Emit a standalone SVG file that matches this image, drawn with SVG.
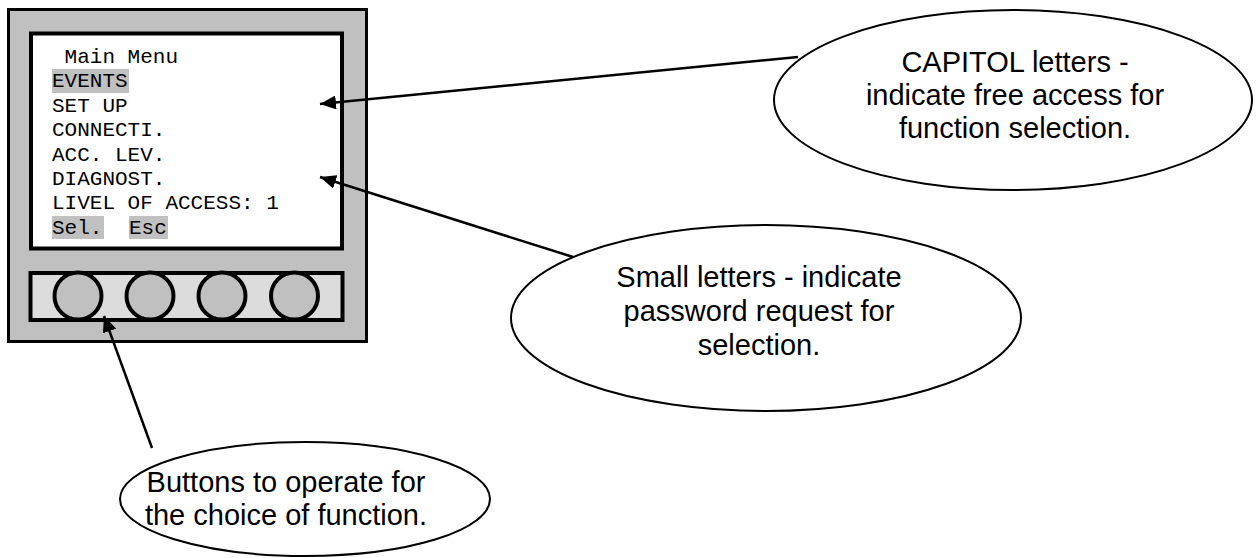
<svg xmlns="http://www.w3.org/2000/svg" width="1256" height="558" viewBox="0 0 1256 558">
<style>
.mono{font-family:"Liberation Mono","Courier New",monospace;font-size:21px;fill:#000}
.lbl{font-family:"Liberation Sans",Arial,sans-serif;font-size:29px;fill:#000;text-anchor:middle}
.bubble{fill:#fff;stroke:#000;stroke-width:2}
.hl{fill:#c0c0c0}
.btn{fill:#c0c0c0;stroke:#000;stroke-width:4}
.conn{stroke:#000;stroke-width:2.5;fill:none;marker-end:url(#ah)}
</style>
<defs>
<marker id="ah" markerUnits="userSpaceOnUse" markerWidth="18" markerHeight="14" refX="16" refY="7" orient="auto">
<path d="M0,0 L16,7 L0,14 z" fill="#000"/>
</marker>
</defs>
<rect width="1256" height="558" fill="#fff"/>
<g id="device">
<rect x="8.5" y="9.5" width="358" height="332" fill="#c0c0c0" stroke="#000" stroke-width="3"/>
<rect x="31" y="33.5" width="311" height="215" fill="#fff" stroke="#000" stroke-width="4"/>
<rect x="30.5" y="273" width="312" height="47" fill="#dcdcdc" stroke="#000" stroke-width="4"/>
<circle class="btn" cx="78" cy="296" r="23.5"/>
<circle class="btn" cx="150" cy="296" r="23.5"/>
<circle class="btn" cx="222" cy="296" r="23.5"/>
<circle class="btn" cx="294.5" cy="296" r="23.5"/>
<rect class="hl" x="52" y="69" width="77" height="24"/>
<rect class="hl" x="52" y="216" width="52" height="23"/>
<rect class="hl" x="129" y="216" width="39" height="23"/>
<text class="mono" x="64.6" y="63">Main Menu</text>
<text class="mono" x="52" y="87.4">EVENTS</text>
<text class="mono" x="52" y="111.8">SET UP</text>
<text class="mono" x="52" y="136.2">CONNECTI.</text>
<text class="mono" x="52" y="160.6">ACC. LEV.</text>
<text class="mono" x="52" y="185">DIAGNOST.</text>
<text class="mono" x="52" y="209.4">LIVEL OF ACCESS: 1</text>
<text class="mono" x="52" y="233.8">Sel.</text>
<text class="mono" x="129" y="233.8">Esc</text>
</g>
<g id="connectors">
<line class="conn" x1="798" y1="57" x2="320" y2="104"/>
<line class="conn" x1="573" y1="257" x2="320" y2="177"/>
<line class="conn" x1="152" y1="448" x2="104" y2="316"/>
</g>
<g id="note-capitol">
<ellipse class="bubble" cx="1013" cy="100" rx="239" ry="90"/>
<text class="lbl" x="1015" y="72">CAPITOL letters -</text>
<text class="lbl" x="1015" y="105">indicate free access for</text>
<text class="lbl" x="1015" y="138">function selection.</text>
</g>
<g id="note-small">
<ellipse class="bubble" cx="766" cy="318" rx="255" ry="93"/>
<text class="lbl" x="759" y="287">Small letters - indicate</text>
<text class="lbl" x="759" y="321">password request for</text>
<text class="lbl" x="759" y="355">selection.</text>
</g>
<g id="note-buttons">
<ellipse class="bubble" cx="305" cy="499" rx="185" ry="57"/>
<text class="lbl" x="286" y="492">Buttons to operate for</text>
<text class="lbl" x="286" y="525">the choice of function.</text>
</g>
</svg>
